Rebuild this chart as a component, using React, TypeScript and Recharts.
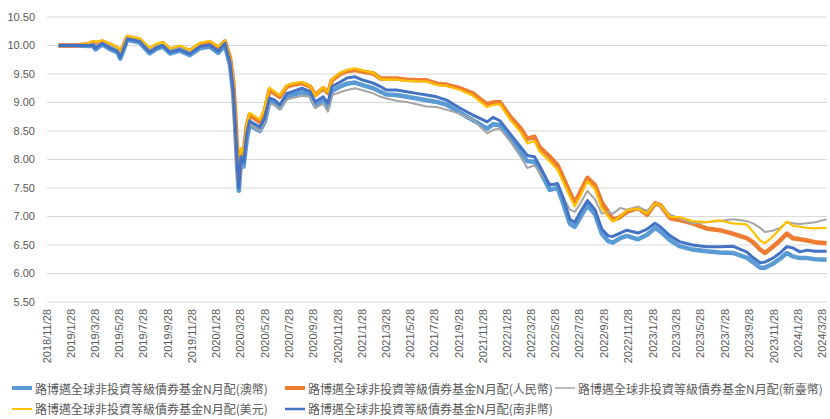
import { CartesianGrid, Legend, Line, LineChart, XAxis, YAxis } from 'recharts';

// NAV readings
const dates = [
  '2018/12/27', '2019/2/6', '2019/3/12', '2019/3/24', '2019/3/30', '2019/4/16', '2019/5/4', '2019/5/24', '2019/5/31', '2019/6/18',
  '2019/7/19', '2019/8/13', '2019/8/30', '2019/9/15', '2019/10/3', '2019/10/28', '2019/11/22', '2019/12/17', '2020/1/11', '2020/2/1',
  '2020/2/18', '2020/3/2', '2020/3/10', '2020/3/15', '2020/3/20', '2020/3/24', '2020/3/29', '2020/4/5', '2020/4/13', '2020/4/20',
  '2020/5/3', '2020/5/16', '2020/5/28', '2020/6/9', '2020/6/22', '2020/7/5', '2020/7/23', '2020/8/6', '2020/8/30', '2020/9/19',
  '2020/10/2', '2020/10/22', '2020/11/3', '2020/11/13', '2020/12/4', '2020/12/21', '2021/1/10', '2021/1/31', '2021/2/25', '2021/3/15',
  '2021/3/30', '2021/4/24', '2021/5/20', '2021/6/14', '2021/7/9', '2021/8/3', '2021/8/29', '2021/10/1', '2021/11/2', '2021/11/20',
  '2021/12/8', '2021/12/23', '2022/1/9', '2022/2/4', '2022/3/2', '2022/3/19', '2022/4/6', '2022/4/18', '2022/5/14', '2022/6/3',
  '2022/6/16', '2022/7/4', '2022/7/16', '2022/7/28', '2022/8/17', '2022/9/5', '2022/9/22', '2022/10/8', '2022/10/20', '2022/11/7',
  '2022/11/24', '2022/12/22', '2023/1/14', '2023/2/3', '2023/2/16', '2023/3/13', '2023/4/5', '2023/5/8', '2023/6/12', '2023/7/15',
  '2023/8/17', '2023/9/21', '2023/10/7', '2023/10/25', '2023/11/6', '2023/11/26', '2023/12/14', '2023/12/31', '2024/1/15', '2024/2/2',
  '2024/2/20', '2024/3/11', '2024/4/9',
];

const aud = [
  10.0, 10.0, 9.99, 9.99, 9.93, 10.02, 9.94, 9.88, 9.77, 10.1,
  10.05, 9.86, 9.94, 9.98, 9.86, 9.91, 9.83, 9.95, 9.98, 9.87,
  10.0, 9.65, 9.15, 8.55, 7.85, 7.45, 7.95, 7.88, 8.35, 8.6,
  8.55, 8.5, 8.66, 9.02, 8.98, 8.9, 9.1, 9.13, 9.18, 9.13,
  8.94, 9.03, 8.91, 9.2, 9.28, 9.33, 9.35, 9.3, 9.25, 9.19,
  9.14, 9.13, 9.1, 9.07, 9.04, 9.01, 8.96, 8.82, 8.69, 8.62,
  8.54, 8.62, 8.6, 8.36, 8.12, 7.97, 7.96, 7.82, 7.47, 7.5,
  7.25, 6.87, 6.82, 6.96, 7.2, 7.04, 6.7, 6.57, 6.54, 6.62,
  6.66, 6.6, 6.68, 6.8, 6.74, 6.58, 6.48, 6.42, 6.39, 6.37,
  6.36, 6.28, 6.2, 6.1, 6.1, 6.17, 6.26, 6.36, 6.3, 6.27,
  6.27, 6.25, 6.24,
];

const cny = [
  10.0, 10.0, 10.02, 10.06, 10.04, 10.07, 10.02, 9.95, 9.86, 10.15,
  10.1, 9.93, 10.0, 10.04, 9.92, 9.97, 9.9, 10.02, 10.06, 9.96,
  10.07, 9.78, 9.35, 8.8, 8.1, 7.62, 8.15, 8.08, 8.58, 8.78,
  8.72, 8.66, 8.85, 9.22, 9.16, 9.1, 9.28, 9.31, 9.34, 9.28,
  9.13, 9.25, 9.17, 9.39, 9.5, 9.55, 9.57, 9.54, 9.51, 9.42,
  9.42, 9.42, 9.4, 9.39, 9.39, 9.33, 9.31, 9.25, 9.16, 9.06,
  8.97, 9.0, 9.01, 8.75, 8.55, 8.36, 8.4, 8.22, 8.05, 7.9,
  7.7, 7.42, 7.24, 7.4, 7.68, 7.55, 7.25, 7.08, 6.94, 6.99,
  7.08, 7.15, 7.03, 7.23, 7.2, 6.97, 6.94, 6.88, 6.79, 6.76,
  6.7, 6.62, 6.55, 6.42, 6.36, 6.47, 6.58, 6.7, 6.62, 6.6,
  6.58, 6.55, 6.53,
];

const sgd = [
  10.0, 10.0, 10.01, 10.03, 10.0, 10.05, 10.0, 9.94, 9.83, 10.12,
  10.09, 9.93, 10.0, 10.04, 9.92, 9.96, 9.88, 9.98, 10.0, 9.9,
  10.02, 9.7, 9.25, 8.7, 8.05, 7.55, 8.05, 7.98, 8.4, 8.62,
  8.56, 8.5, 8.65, 8.99, 8.95, 8.88, 9.05, 9.08, 9.12, 9.1,
  8.9, 8.98, 8.84, 9.13, 9.18, 9.22, 9.25, 9.21, 9.16, 9.1,
  9.07, 9.03, 9.01, 8.97, 8.93, 8.92, 8.87, 8.8, 8.7, 8.58,
  8.46, 8.52, 8.54, 8.32, 8.05, 7.85, 7.9, 7.78, 7.58, 7.55,
  7.35, 7.12, 7.08, 7.2, 7.45, 7.3, 7.05, 7.08, 7.05, 7.15,
  7.12, 7.17, 7.1, 7.23, 7.18, 7.03, 6.97, 6.88, 6.9, 6.92,
  6.95, 6.92, 6.88, 6.8, 6.73, 6.75, 6.8, 6.9, 6.88, 6.87,
  6.88, 6.9, 6.95,
];

const usd = [
  10.0, 10.0, 10.04, 10.08, 10.06, 10.09, 10.04, 9.97, 9.88, 10.17,
  10.12, 9.96, 10.03, 10.06, 9.95, 10.0, 9.92, 10.04, 10.08, 9.98,
  10.08, 9.8, 9.38, 8.83, 8.15, 7.68, 8.2, 8.12, 8.62, 8.82,
  8.76, 8.7, 8.9, 9.26, 9.19, 9.12, 9.3, 9.33, 9.36, 9.29,
  9.12, 9.27, 9.18, 9.41, 9.52, 9.57, 9.6, 9.56, 9.52, 9.41,
  9.4, 9.4, 9.38, 9.37, 9.37, 9.31, 9.29, 9.22, 9.12, 9.02,
  8.92, 8.96, 8.97, 8.7, 8.48, 8.28, 8.33, 8.15, 7.97, 7.82,
  7.62, 7.35, 7.18, 7.33, 7.62, 7.48, 7.15, 7.0, 6.91, 7.0,
  7.11, 7.14, 7.05, 7.23, 7.2, 6.99, 6.99, 6.92, 6.9, 6.93,
  6.88, 6.86, 6.73, 6.58, 6.53, 6.65, 6.78, 6.91, 6.84, 6.82,
  6.8, 6.79, 6.8,
];

const zar = [
  10.0, 10.0, 10.0, 10.01, 9.95, 10.04, 9.96, 9.9, 9.79, 10.12,
  10.07, 9.88, 9.96, 10.0, 9.88, 9.93, 9.85, 9.98, 10.01, 9.9,
  10.04, 9.7, 9.22, 8.64, 7.95, 7.5, 8.05, 7.95, 8.45, 8.68,
  8.62, 8.57, 8.73, 9.08, 9.04, 8.96, 9.16, 9.19, 9.25, 9.19,
  9.01, 9.1, 8.99, 9.28, 9.36, 9.43, 9.45, 9.39, 9.34, 9.28,
  9.22, 9.22, 9.19, 9.16, 9.13, 9.1, 9.04, 8.9, 8.78, 8.72,
  8.66, 8.74, 8.68, 8.45, 8.22, 8.07, 8.05, 7.9, 7.55, 7.58,
  7.35, 6.95, 6.9, 7.05, 7.28, 7.12, 6.78, 6.66, 6.65, 6.71,
  6.76, 6.71, 6.78, 6.88, 6.82, 6.66, 6.56, 6.5, 6.47, 6.47,
  6.48, 6.38, 6.28, 6.19, 6.2, 6.27, 6.36, 6.47, 6.45, 6.38,
  6.41, 6.39, 6.39,
];

const tickLabels = [
  '2018/11/28', '2019/1/28', '2019/3/28', '2019/5/28', '2019/7/28', '2019/9/28', '2019/11/28',
  '2020/1/28', '2020/3/28', '2020/5/28', '2020/7/28', '2020/9/28', '2020/11/28',
  '2021/1/28', '2021/3/28', '2021/5/28', '2021/7/28', '2021/9/28', '2021/11/28',
  '2022/1/28', '2022/3/28', '2022/5/28', '2022/7/28', '2022/9/28', '2022/11/28',
  '2023/1/28', '2023/3/28', '2023/5/28', '2023/7/28', '2023/9/28', '2023/11/28',
  '2024/1/28', '2024/3/28',
];

const yTicks = [5.5, 6, 6.5, 7, 7.5, 8, 8.5, 9, 9.5, 10, 10.5];

const prefix = '路博邁全球非投資等級債券基金N月配';

const series = [
  { key: 'aud', name: `${prefix}(澳幣)`, color: '#5B9BD5', width: 4.5, icon: 4 },
  { key: 'cny', name: `${prefix}(人民幣)`, color: '#ED7D31', width: 4.5, icon: 4 },
  { key: 'sgd', name: `${prefix}(新臺幣)`, color: '#A5A5A5', width: 2, icon: 1.5 },
  { key: 'usd', name: `${prefix}(美元)`, color: '#FFC000', width: 2.25, icon: 2 },
  { key: 'zar', name: `${prefix}(南非幣)`, color: '#4472C4', width: 3, icon: 2.5 },
];

const toDay = (s: string) => {
  const [y, m, d] = s.split('/').map(Number);
  return (Date.UTC(y, m - 1, d) - Date.UTC(2018, 10, 28)) / 86400000;
};

const data = dates.map((d, i) => ({
  day: toDay(d),
  aud: aud[i],
  cny: cny[i],
  sgd: sgd[i],
  usd: usd[i],
  zar: zar[i],
}));

const xTicks = tickLabels.map(toDay);
const labelByDay = new Map(tickLabels.map((t) => [toDay(t), t]));

const textColor = '#595959';

function DateTick({ x, y, payload }: any) {
  return (
    <g transform={`translate(${x},${y})`}>
      <text
        transform="rotate(-90)"
        textAnchor="end"
        dy="0.35em"
        fill={textColor}
        fontSize={11}
        fontFamily="Liberation Sans"
      >
        {labelByDay.get(payload.value)}
      </text>
    </g>
  );
}

function LegendBox() {
  return (
    <div
      style={{
        height: 44,
        boxSizing: 'border-box',
        paddingTop: 3,
        paddingLeft: 12,
        display: 'grid',
        gridTemplateColumns: '273px 270px 270px',
        fontFamily: '"Noto Sans CJK TC"',
        fontSize: 12,
        color: textColor,
      }}
    >
      {series.map((s) => (
        <div key={s.key} style={{ display: 'flex', alignItems: 'center', height: 20, whiteSpace: 'nowrap' }}>
          <svg width={20} height={8}>
            <line x1={0} y1={4} x2={20} y2={4} stroke={s.color} strokeWidth={s.icon} />
          </svg>
          <span style={{ marginLeft: 3 }}>{s.name}</span>
        </div>
      ))}
    </div>
  );
}

export default function App() {
  return (
    <div style={{ position: 'absolute', left: 0, top: 0, background: '#fff' }}>
      <LineChart width={830} height={419} data={data} margin={{ top: 17, right: 3, bottom: 0, left: 0 }}>
        <CartesianGrid vertical={false} stroke="#D9D9D9" />
        <XAxis
          dataKey="day"
          type="number"
          domain={[0, toDay('2024/4/10')]}
          ticks={xTicks}
          interval={0}
          axisLine={false}
          tickLine={false}
          tickSize={0}
          tickMargin={7}
          height={73}
          tick={<DateTick />}
        />
        <YAxis
          domain={[5.5, 10.5]}
          ticks={yTicks}
          width={47}
          axisLine={false}
          tickLine={false}
          tickSize={0}
          tickMargin={12}
          tickFormatter={(v: number) => v.toFixed(2)}
          tick={{ fill: textColor, fontSize: 11, fontFamily: 'Liberation Sans' }}
        />
        <Legend verticalAlign="bottom" wrapperStyle={{ left: 0, width: 830, bottom: 0 }} content={<LegendBox />} />
        {series.map((s) => (
          <Line
            key={s.key}
            type="linear"
            dataKey={s.key}
            name={s.name}
            stroke={s.color}
            strokeWidth={s.width}
            dot={false}
            strokeLinejoin="round"
            isAnimationActive={false}
          />
        ))}
      </LineChart>
    </div>
  );
}
